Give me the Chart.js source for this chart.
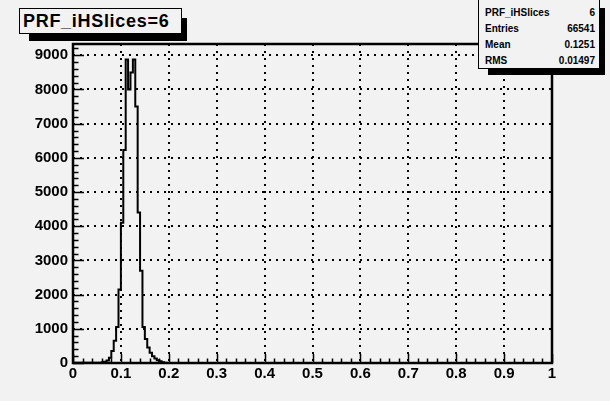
<!DOCTYPE html>
<html>
<head>
<meta charset="utf-8">
<script src="https://cdn.jsdelivr.net/npm/chart.js@4.4.0/dist/chart.umd.min.js"></script>
<style>
  html, body { margin: 0; padding: 0; background: #f2f2f2; }
  #wrap { position: relative; width: 610px; height: 401px; overflow: hidden; background: #f2f2f2; }
  #myChart { position: absolute; left: 0; top: 0; }
  .shadow { position: absolute; background: #000; }
  .pave { position: absolute; box-sizing: border-box; border: 1px solid #000; background: #f2f2f2;
          font-family: 'Liberation Sans', Arial, sans-serif; font-weight: bold; color: #000; }
  #title { left: 19px; top: 8px; width: 163px; height: 26px; font-size: 18px; letter-spacing: 0.7px;
           line-height: 24px; padding-left: 3px; }
  #stats { left: 478px; top: -1px; width: 122px; height: 70px; font-size: 10px; }
  .row { position: absolute; left: 6px; right: 4px; height: 16px; line-height: 16px; }
  .row span:last-child { position: absolute; right: 0; }
</style>
</head>
<body>
<div id="wrap">
  <canvas id="myChart" width="610" height="401"></canvas>
  <div class="shadow" style="left:29px; top:18px; width:158px; height:23px;"></div>
  <div class="pave" id="title">PRF_iHSlices=6</div>
  <div class="shadow" style="left:488px; top:8px; width:117px; height:67px;"></div>
  <div class="pave" id="stats"></div>
</div>
<script>
// histogram: counts per 0.005 bin, first bin starts at 0.06
const binStart = 0.06
const binWidth = 0.005
const counts = [10, 20, 40, 70, 150, 350, 650, 1050, 2150, 4100, 6230,
  8880, 8000, 8500, 8880,
  7500, 4400, 2700, 1050, 700, 450, 300, 200, 130, 80, 50, 25, 10]

const xTickValues = [0, 0.1, 0.2, 0.3, 0.4, 0.5, 0.6, 0.7, 0.8, 0.9, 1]
const xTickLabels = ['0', '0.1', '0.2', '0.3', '0.4', '0.5', '0.6', '0.7', '0.8', '0.9', '1']
const yTickValues = [0, 1000, 2000, 3000, 4000, 5000, 6000, 7000, 8000, 9000]
const yTickLabels = ['0', '1000', '2000', '3000', '4000', '5000', '6000', '7000', '8000', '9000']

const statNames = ['PRF_iHSlices', 'Entries', 'Mean', 'RMS']
const statValues = ['6', '66541', '0.1251', '0.01497']

// stats box text
const stats = document.getElementById('stats')
statNames.forEach((name, i) => {
  const row = document.createElement('div')
  row.className = 'row'
  row.style.top = (5 + 16 * i) + 'px'
  row.innerHTML = '<span>' + name + '</span><span>' + statValues[i] + '</span>'
  stats.appendChild(row)
})

// step line points, empty bins at both ends
const points = [{ x: 0, y: 0 }]
counts.forEach((c, i) => points.push({ x: binStart + i * binWidth, y: c }))
points.push({ x: binStart + counts.length * binWidth, y: 0 })
points.push({ x: 1, y: 0 })

const FONT = "'Liberation Sans', Arial, sans-serif"

// frame + inward tick marks like ROOT
const rootFrame = {
  id: 'rootFrame',
  afterDatasetsDraw(chart) {
    const { ctx, chartArea: a, scales } = chart
    ctx.save()
    ctx.strokeStyle = '#000'
    ctx.lineWidth = 1.5
    ctx.beginPath()
    for (let v = 0; v <= 1.0001; v += 0.02) {
      const px = Math.round(scales.x.getPixelForValue(v)) + 0.5
      const major = Math.abs(v * 10 - Math.round(v * 10)) < 1e-6
      ctx.moveTo(px, a.bottom)
      ctx.lineTo(px, a.bottom - (major ? 9 : 4.5))
    }
    for (let v = 0; v <= 9300; v += 200) {
      const py = Math.round(scales.y.getPixelForValue(v)) + 0.5
      const major = v % 1000 === 0
      ctx.moveTo(a.left, py)
      ctx.lineTo(a.left + (major ? 11 : 5.5), py)
    }
    ctx.stroke()
    ctx.lineWidth = 2.5
    ctx.strokeRect(a.left, a.top, a.right - a.left, a.bottom - a.top)
    ctx.restore()
  }
}

const hideEdge = (c) => (c.tick && (c.tick.value === 0 || c.tick.value === 1)) ? 'rgba(0,0,0,0)' : '#000'

new Chart(document.getElementById('myChart'), {
  type: 'line',
  data: {
    datasets: [{
      data: points,
      stepped: 'after',
      borderColor: '#000',
      borderWidth: 2,
      pointRadius: 0,
      fill: false,
      tension: 0
    }]
  },
  options: {
    responsive: false,
    animation: false,
    devicePixelRatio: 1,
    layout: { padding: { top: 44, right: 58, left: 0, bottom: 0 } },
    plugins: { legend: { display: false }, tooltip: { enabled: false } },
    scales: {
      x: {
        type: 'linear', min: 0, max: 1,
        afterBuildTicks: s => { s.ticks = xTickValues.map(v => ({ value: v })) },
        afterFit: s => { s.height = 38 },
        ticks: {
          callback: (v, i) => xTickLabels[i],
          font: { family: FONT, weight: 'bold', size: 15 },
          color: '#000', padding: 2, maxRotation: 0, autoSkip: false
        },
        grid: { color: hideEdge, lineWidth: 2, drawTicks: false },
        border: { display: false, dash: [2, 5] }
      },
      y: {
        min: 0, max: 9330,
        afterBuildTicks: s => { s.ticks = yTickValues.map(v => ({ value: v })) },
        afterFit: s => { s.width = 73 },
        ticks: {
          callback: (v, i) => yTickLabels[i],
          font: { family: FONT, weight: 'bold', size: 15 },
          color: '#000', padding: 5, autoSkip: false
        },
        grid: { color: hideEdge, lineWidth: 2, drawTicks: false },
        border: { display: false, dash: [2, 5] }
      }
    }
  },
  plugins: [rootFrame]
})
</script>
</body>
</html>
